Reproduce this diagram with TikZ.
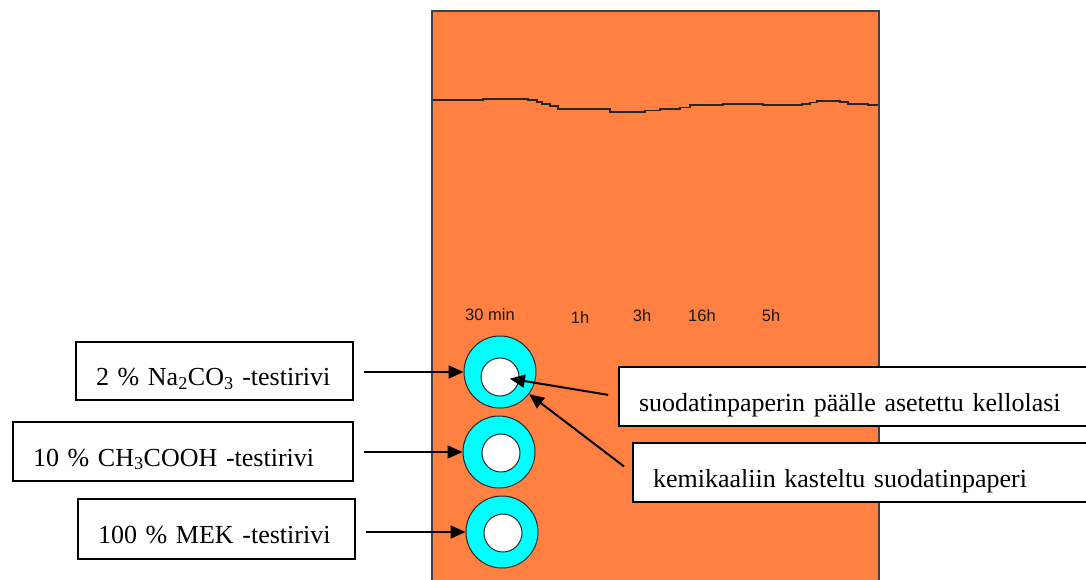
\documentclass[tikz,border=0pt]{standalone}
\usepackage{fontspec}
\setmainfont{Liberation Serif}
\newfontfamily\labfont{Liberation Sans}
\usetikzlibrary{arrows.meta}
\definecolor{plate}{RGB}{255,128,64}
\definecolor{plateedge}{RGB}{64,64,64}
\definecolor{ring}{RGB}{0,255,255}
\tikzset{
  labelbox/.style={draw=black, line width=2pt, fill=white, anchor=west,
    inner xsep=20pt, inner ysep=0pt, align=left,
    text height=29pt, text depth=0pt,
    font=\fontsize{26}{30}\selectfont},
  outerring/.style={circle, draw=black!85, line width=1pt, fill=ring, minimum size=72pt, inner sep=0pt},
  innerdisc/.style={circle, draw=black!85, line width=1pt, fill=white, minimum size=38pt, inner sep=0pt},
  timelab/.style={font=\labfont\fontsize{16.5}{18}\selectfont, text=black!90, inner sep=0pt},
  arr/.style={line width=2pt, -{Triangle[length=15pt,width=13pt]}}
}
\begin{document}
\begin{tikzpicture}[x=1pt,y=-1pt]
\useasboundingbox (0,0) rectangle (1086,579);
% plate
\draw[fill=plate, draw=plateedge, line width=1.5pt] (432,590) -- (432,11) -- (879,11) -- (879,590);
% wavy line
\draw[line width=1.4pt, black!85] (433,100) -- (483,100) -- (483,99) -- (528,99) -- (528,100) -- (537,100) -- (537,102) -- (542,102) -- (542,104) -- (550,104) -- (550,106) -- (558,106) -- (558,109) -- (610,109) -- (610,112) -- (645,112) -- (645,110.7) -- (660,110.7) -- (660,109) -- (680,109) -- (680,107.5) -- (690,107.5) -- (690,105) -- (723,105) -- (723,104) -- (763,104) -- (763,105) -- (802,105) -- (802,104) -- (810,104) -- (810,102.5) -- (817,102.5) -- (817,101) -- (840,101) -- (840,102) -- (848,102) -- (848,104) -- (868,104) -- (868,105) -- (878,105);
% time labels
\node[timelab] (t30) at (490,315) {30 min};
\node[timelab] (t1) at (580,318) {1h};
\node[timelab] (t3) at (642,316) {3h};
\node[timelab] (t16) at (702,316) {16h};
\node[timelab] (t5) at (771,316) {5h};
% rings
\node[outerring] (c1) at (500,372) {};
\node[innerdisc] (i1) at (500,377) {};
\node[outerring] (c2) at (499,452) {};
\node[innerdisc] (i2) at (501,453) {};
\node[outerring] (c3) at (502,532) {};
\node[innerdisc] (i3) at (503,533) {};
% left label boxes
\node[labelbox, minimum width=277pt, minimum height=58pt, text width=237pt] (b1) at (75,371) {2 \% Na\textsubscript{2}CO\textsubscript{3} -testirivi};
\node[labelbox, minimum width=340pt, minimum height=59pt, text width=300pt] (b2) at (12,451.5) {10 \% CH\textsubscript{3}COOH -testirivi};
\node[labelbox, minimum width=277pt, minimum height=60pt, text width=237pt] (b3) at (77,529) {100 \% MEK -testirivi};
% right label boxes
\node[labelbox, minimum width=480pt, minimum height=59pt, text width=440pt] (r1) at (618,396.5) {suodatinpaperin päälle asetettu kellolasi};
\node[labelbox, minimum width=470pt, minimum height=59pt, text width=430pt] (r2) at (632,472.5) {kemikaaliin kasteltu suodatinpaperi};
% arrows
\draw[arr, shorten <=10pt] (b1.east |- c1.west) -- (c1.west);
\draw[arr, shorten <=10pt] (b2.east |- c2.west) -- (c2.west);
\draw[arr, shorten <=10pt] (b3.east |- c3.west) -- (c3.west);
\draw[arr, shorten <=10pt, shorten >=10pt] (r1.west) -- (i1.center);
\draw[arr, shorten <=10pt] (r2.west) -- (c1);
\end{tikzpicture}
\end{document}
